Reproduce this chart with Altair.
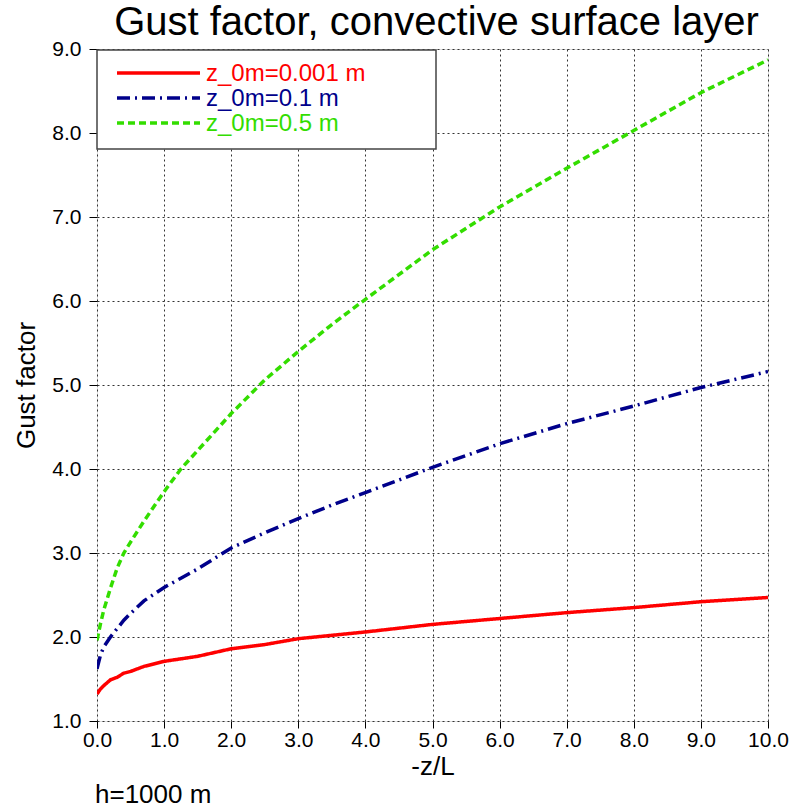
import altair as alt
import pandas as pd

x_vals = [0, 0.05, 0.1, 0.2, 0.3, 0.4, 0.5, 0.7, 1.0, 1.25, 1.5, 2.0, 2.5, 3.0, 3.5, 4, 5, 6, 7, 8, 9, 10]
red_vals = [1.32, 1.38, 1.42, 1.49, 1.52, 1.57, 1.59, 1.65, 1.71, 1.74, 1.77, 1.86, 1.91, 1.98, 2.02, 2.06, 2.15, 2.22, 2.29, 2.35, 2.42, 2.47]
blue_vals = [1.62, 1.78, 1.88, 2.00, 2.10, 2.20, 2.28, 2.43, 2.59, 2.70, 2.81, 3.06, 3.24, 3.41, 3.57, 3.72, 4.02, 4.30, 4.54, 4.75, 4.97, 5.16]
green_vals = [1.96, 2.15, 2.32, 2.58, 2.82, 3.00, 3.13, 3.38, 3.73, 4.00, 4.22, 4.66, 5.06, 5.40, 5.72, 6.02, 6.61, 7.12, 7.58, 8.03, 8.48, 8.87]

series_names = ["z_0m=0.001 m", "z_0m=0.1 m", "z_0m=0.5 m"]
series_colors = ["#ff0000", "#00008b", "#33dd00"]
series_dashes = [[1, 0], [13, 5, 2, 5], [7, 4]]

x_ticks = [0, 1, 2, 3, 4, 5, 6, 7, 8, 9, 10]
y_ticks = [1, 2, 3, 4, 5, 6, 7, 8, 9]

rows = []
for name, vals in zip(series_names, [red_vals, blue_vals, green_vals]):
    for xv, yv in zip(x_vals, vals):
        rows.append({"x": xv, "y": yv, "series": name})
df = pd.DataFrame(rows)

FONT = "Liberation Sans"
W, H = 671, 672

xs = alt.Scale(domain=[0, 10], nice=False, zero=False)
ys = alt.Scale(domain=[1, 9], nice=False, zero=False)

lines = alt.Chart(df).mark_line(strokeWidth=3.5, clip=True).encode(
    x=alt.X("x:Q", scale=xs, title="-z/L",
            axis=alt.Axis(values=x_ticks, format=".1f", labelFontSize=21, tickSize=7,
                          labelPadding=1, titleFontSize=26, titlePadding=3,
                          labelFlush=False, labelOverlap=False,
                          gridDash=[2, 3], gridColor="#333", gridOpacity=1,
                          domain=False, tickColor="black", labelColor="black",
                          titleFontWeight="normal", labelFont=FONT, titleFont=FONT)),
    y=alt.Y("y:Q", scale=ys, title="Gust factor",
            axis=alt.Axis(values=y_ticks, format=".1f", labelFontSize=21, tickSize=8,
                          labelPadding=8, titleFontSize=26, titlePadding=12,
                          labelFlush=False, labelOverlap=False,
                          gridDash=[2, 3], gridColor="#333", gridOpacity=1,
                          domain=False, tickColor="black", labelColor="black",
                          titleFontWeight="normal", labelFont=FONT, titleFont=FONT)),
    color=alt.Color("series:N", scale=alt.Scale(domain=series_names, range=series_colors), legend=None),
    strokeDash=alt.StrokeDash("series:N", scale=alt.Scale(domain=series_names, range=series_dashes), legend=None),
    detail="series:N",
)

# legend box
box = alt.Chart(pd.DataFrame({"a": [0]})).mark_rect(fill="white", stroke="#444", strokeWidth=1.5).encode(
    x=alt.value(0), x2=alt.value(339), y=alt.value(1), y2=alt.value(100)
)

legend_layers = []
for i, (name, col, dash) in enumerate(zip(series_names, series_colors, series_dashes)):
    ld = pd.DataFrame({"series": [name]})
    yy = 24 + 25 * i
    legend_layers.append(
        alt.Chart(ld).mark_rule(color=col, strokeWidth=3.5, strokeDash=dash).encode(
            x=alt.value(20), x2=alt.value(103), y=alt.value(yy)
        )
    )
    legend_layers.append(
        alt.Chart(ld).mark_text(color=col, fontSize=24, font=FONT, align="left", baseline="middle").encode(
            x=alt.value(109), y=alt.value(yy + 1), text="series:N"
        )
    )

note = alt.Chart(pd.DataFrame({"t": ["h=1000 m"]})).mark_text(
    fontSize=26, font=FONT, align="left", baseline="alphabetic", color="black"
).encode(x=alt.value(-2), y=alt.value(754), text="t:N")

chart = alt.layer(lines, box, *legend_layers, note).properties(
    width=W, height=H,
    title=alt.TitleParams("Gust factor, convective surface layer", fontSize=40, font=FONT,
                          fontWeight="normal", anchor="middle", offset=8, dy=13,
                          color="black", dx=4),
    autosize=alt.AutoSizeParams(type="none"),
    padding={"left": 97, "top": 49, "right": 24, "bottom": 88},
).configure_view(stroke="black", strokeWidth=1.5).configure(background="white")

chart.save("out.html", embed_options={"renderer": "svg", "actions": False})
